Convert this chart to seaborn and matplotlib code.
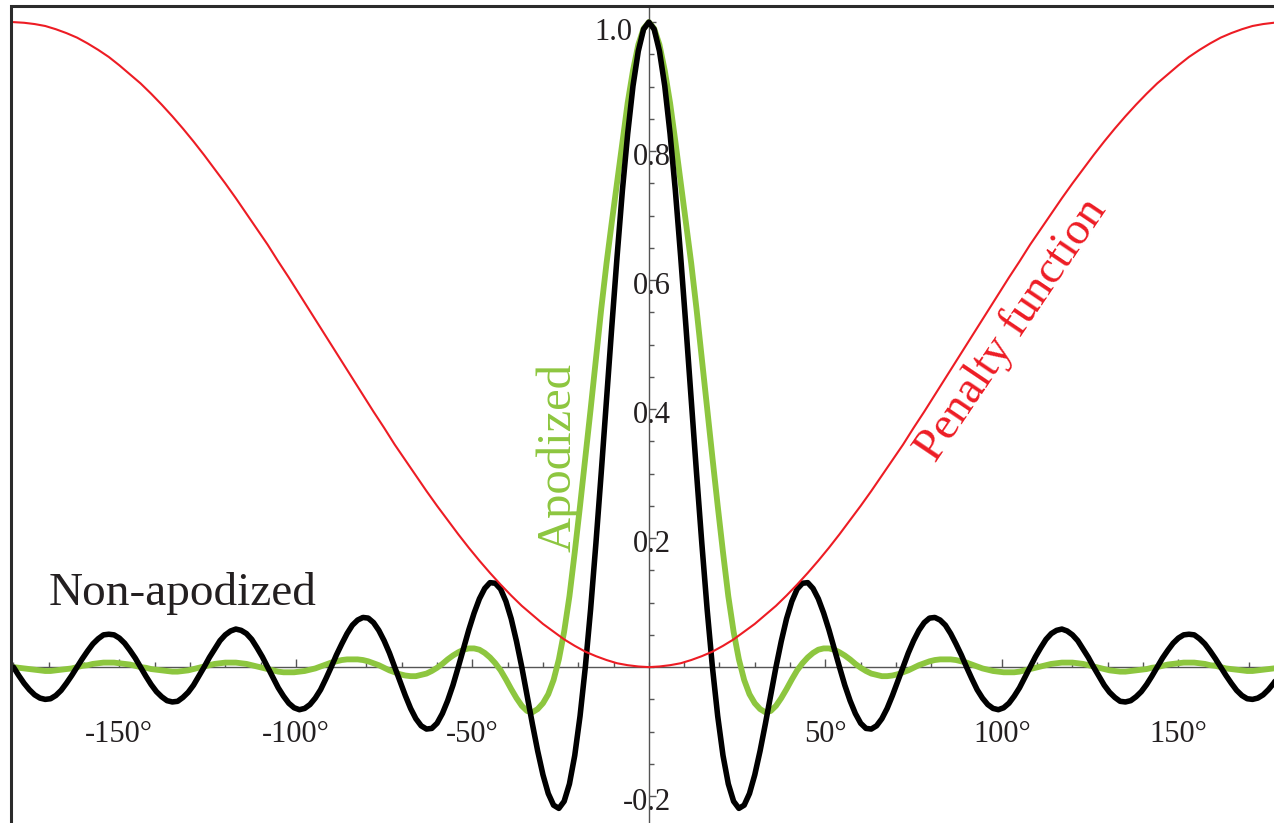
import numpy as np
import pandas as pd
import matplotlib
matplotlib.use("Agg")
import matplotlib.pyplot as plt
import seaborn as sns
from matplotlib.ticker import MultipleLocator
from matplotlib.patches import Rectangle
from matplotlib.transforms import ScaledTranslation

# ---------------- data ----------------
angle_deg = np.arange(-180, 180.1, 1.5)          # sampling angles, degrees

non_apodized = [
    # -180 .. -1.5
    0.000, -0.013, -0.025, -0.035, -0.043, -0.048, -0.050, -0.049, -0.044, -0.036, -0.025, -0.013,
    0.000, 0.013, 0.025, 0.036, 0.044, 0.050, 0.051, 0.050, 0.045, 0.037, 0.026, 0.014,
    0.000, -0.014, -0.027, -0.038, -0.046, -0.052, -0.054, -0.053, -0.047, -0.039, -0.028, -0.014,
    0.000, 0.015, 0.028, 0.041, 0.050, 0.056, 0.059, 0.057, 0.052, 0.043, 0.030, 0.016,
    0.000, -0.016, -0.032, -0.045, -0.056, -0.063, -0.066, -0.064, -0.058, -0.048, -0.035, -0.018,
    0.000, 0.019, 0.036, 0.052, 0.065, 0.073, 0.077, 0.076, 0.069, 0.057, 0.041, 0.022,
    0.000, -0.022, -0.044, -0.064, -0.080, -0.091, -0.096, -0.095, -0.087, -0.072, -0.052, -0.028,
    0.000, 0.029, 0.058, 0.084, 0.106, 0.122, 0.131, 0.130, 0.121, 0.102, 0.075, 0.040,
    0.000, -0.044, -0.088, -0.130, -0.167, -0.196, -0.214, -0.219, -0.208, -0.181, -0.137, -0.076,
    0.000, 0.090, 0.192, 0.301, 0.414, 0.528, 0.637, 0.739, 0.827, 0.901, 0.955, 0.989,
    # 0
    1.000,
    # 1.5 .. 180
    0.989, 0.955, 0.901, 0.827, 0.739, 0.637, 0.528, 0.414, 0.301, 0.192, 0.090, 0.000,
    -0.076, -0.137, -0.181, -0.208, -0.219, -0.214, -0.196, -0.167, -0.130, -0.088, -0.044, 0.000,
    0.040, 0.075, 0.102, 0.121, 0.130, 0.131, 0.122, 0.106, 0.084, 0.058, 0.029, 0.000,
    -0.028, -0.052, -0.072, -0.087, -0.095, -0.096, -0.091, -0.080, -0.064, -0.044, -0.022, 0.000,
    0.022, 0.041, 0.057, 0.069, 0.076, 0.077, 0.073, 0.065, 0.052, 0.036, 0.019, 0.000,
    -0.018, -0.035, -0.048, -0.058, -0.064, -0.066, -0.063, -0.056, -0.045, -0.032, -0.016, 0.000,
    0.016, 0.030, 0.043, 0.052, 0.057, 0.059, 0.056, 0.050, 0.041, 0.028, 0.015, 0.000,
    -0.014, -0.028, -0.039, -0.047, -0.053, -0.054, -0.052, -0.046, -0.038, -0.027, -0.014, 0.000,
    0.014, 0.026, 0.037, 0.045, 0.050, 0.051, 0.050, 0.044, 0.036, 0.025, 0.013, 0.000,
    -0.013, -0.025, -0.036, -0.044, -0.049, -0.050, -0.048, -0.043, -0.035, -0.025, -0.013, 0.000,
]

apodized = [
    # -180 .. -1.5
    0.000, -0.001, -0.002, -0.003, -0.004, -0.005, -0.006, -0.006, -0.005, -0.004, -0.003, -0.002,
    0.000, 0.002, 0.003, 0.005, 0.006, 0.007, 0.007, 0.007, 0.006, 0.005, 0.004, 0.002,
    0.000, -0.001, -0.003, -0.004, -0.005, -0.006, -0.007, -0.007, -0.006, -0.005, -0.003, -0.001,
    0.001, 0.003, 0.005, 0.006, 0.007, 0.007, 0.007, 0.006, 0.005, 0.003, 0.001, -0.001,
    -0.003, -0.005, -0.007, -0.008, -0.008, -0.008, -0.007, -0.006, -0.004, -0.002, 0.001, 0.004,
    0.007, 0.009, 0.011, 0.012, 0.012, 0.012, 0.011, 0.009, 0.006, 0.003, -0.001, -0.005,
    -0.008, -0.011, -0.013, -0.014, -0.014, -0.012, -0.010, -0.006, -0.001, 0.005, 0.012, 0.018,
    0.023, 0.027, 0.029, 0.029, 0.027, 0.022, 0.015, 0.006, -0.005, -0.019, -0.034, -0.048,
    -0.060, -0.068, -0.070, -0.065, -0.056, -0.042, -0.020, 0.012, 0.055, 0.110, 0.178, 0.250,
    0.325, 0.400, 0.478, 0.555, 0.626, 0.690, 0.752, 0.815, 0.875, 0.925, 0.965, 0.990,
    # 0
    1.000,
    # 1.5 .. 180
    0.990, 0.965, 0.925, 0.875, 0.815, 0.752, 0.690, 0.626, 0.555, 0.478, 0.400, 0.325,
    0.250, 0.178, 0.110, 0.055, 0.012, -0.020, -0.042, -0.056, -0.065, -0.070, -0.068, -0.060,
    -0.048, -0.034, -0.019, -0.005, 0.006, 0.015, 0.022, 0.027, 0.029, 0.029, 0.027, 0.023,
    0.018, 0.012, 0.005, -0.001, -0.006, -0.010, -0.012, -0.014, -0.014, -0.013, -0.011, -0.008,
    -0.005, -0.001, 0.003, 0.006, 0.009, 0.011, 0.012, 0.012, 0.012, 0.011, 0.009, 0.007,
    0.004, 0.001, -0.002, -0.004, -0.006, -0.007, -0.008, -0.008, -0.008, -0.007, -0.005, -0.003,
    -0.001, 0.001, 0.003, 0.005, 0.006, 0.007, 0.007, 0.007, 0.006, 0.005, 0.003, 0.001,
    -0.001, -0.003, -0.005, -0.006, -0.007, -0.007, -0.006, -0.005, -0.004, -0.003, -0.001, 0.000,
    0.002, 0.004, 0.005, 0.006, 0.007, 0.007, 0.007, 0.006, 0.005, 0.003, 0.002, 0.000,
    -0.002, -0.003, -0.004, -0.005, -0.006, -0.006, -0.005, -0.004, -0.003, -0.002, -0.001, 0.000,
]

penalty_angle_deg = np.arange(-180, 180.1, 3)
penalty = [
    1.000, 0.999, 0.997, 0.994, 0.989, 0.983, 0.976, 0.967, 0.957, 0.946,
    0.933, 0.919, 0.905, 0.889, 0.872, 0.854, 0.835, 0.815, 0.794, 0.772,
    0.750, 0.727, 0.703, 0.679, 0.655, 0.629, 0.604, 0.578, 0.552, 0.526,
    0.500, 0.474, 0.448, 0.422, 0.396, 0.371, 0.345, 0.321, 0.297, 0.273,
    0.250, 0.228, 0.206, 0.185, 0.165, 0.146, 0.128, 0.111, 0.095, 0.081,
    0.067, 0.055, 0.043, 0.033, 0.024, 0.017, 0.011, 0.006, 0.003, 0.001,
    0.000,
    0.001, 0.003, 0.006, 0.011, 0.017, 0.024, 0.033, 0.043, 0.055, 0.067,
    0.081, 0.095, 0.111, 0.128, 0.146, 0.165, 0.185, 0.206, 0.228, 0.250,
    0.273, 0.297, 0.321, 0.345, 0.371, 0.396, 0.422, 0.448, 0.474, 0.500,
    0.526, 0.552, 0.578, 0.604, 0.629, 0.655, 0.679, 0.703, 0.727, 0.750,
    0.772, 0.794, 0.815, 0.835, 0.854, 0.872, 0.889, 0.905, 0.919, 0.933,
    0.946, 0.957, 0.967, 0.976, 0.983, 0.989, 0.994, 0.997, 0.999, 1.000,
]

xtick_pos = [-150, -100, -50, 50, 100, 150]
xtick_labels = ["-150°", "-100°", "-50°", "50°", "100°", "150°"]
ytick_pos = [-0.2, 0.2, 0.4, 0.6, 0.8, 1.0]
ytick_labels = ["-0.2", "0.2", "0.4", "0.6", "0.8", "1.0"]

assert len(angle_deg) == len(non_apodized) == len(apodized)
assert len(penalty_angle_deg) == len(penalty)

df_black = pd.DataFrame({"angle": angle_deg, "value": non_apodized})
df_green = pd.DataFrame({"angle": angle_deg, "value": apodized})
df_red = pd.DataFrame({"angle": penalty_angle_deg, "value": penalty})

# ---------------- style ----------------
sns.set_style("white")
plt.rcParams["font.family"] = ["Liberation Serif", "DejaVu Serif"]

GREEN = "#8DC63F"
RED = "#ED1C24"
TEXT = "#231F20"
AXIS = "#555555"

W, H = 1274, 823
fig = plt.figure(figsize=(W / 100, H / 100), dpi=100)
fig.patch.set_facecolor("white")

xlim = (-180.7, 180.7)
ylim = (-0.26, 1.025)
px_per_deg = 3.53
px_per_unit = 645.0
ax_w = (xlim[1] - xlim[0]) * px_per_deg
ax_h = (ylim[1] - ylim[0]) * px_per_unit
left_px, top_px = 11, 6
ax = fig.add_axes([left_px / W, (H - top_px - ax_h) / H, ax_w / W, ax_h / H])
ax.set_facecolor("white")

sns.lineplot(data=df_green, x="angle", y="value", color=GREEN, lw=4.2,
             ax=ax, zorder=2, estimator=None, legend=False)
sns.lineplot(data=df_black, x="angle", y="value", color="black", lw=4.0,
             ax=ax, zorder=3, estimator=None, legend=False)
sns.lineplot(data=df_red, x="angle", y="value", color=RED, lw=1.5,
             ax=ax, zorder=4, estimator=None, legend=False)

ax.set_xlim(*xlim)
ax.set_ylim(*ylim)
ax.set_xlabel("")
ax.set_ylabel("")

# axes through the origin
for s in ("top", "right"):
    ax.spines[s].set_visible(False)
ax.spines["left"].set_position(("data", 0))
ax.spines["bottom"].set_position(("data", 0))
for s in ("left", "bottom"):
    ax.spines[s].set_color(AXIS)
    ax.spines[s].set_linewidth(1.0)
    ax.spines[s].set_zorder(1)

ax.set_xticks(xtick_pos)
ax.set_xticklabels(xtick_labels)
ax.xaxis.set_minor_locator(MultipleLocator(10))
ax.set_yticks(ytick_pos)
ax.set_yticklabels(ytick_labels)
ax.yaxis.set_minor_locator(MultipleLocator(0.05))

ax.tick_params(axis="x", which="major", direction="in", length=6, width=1,
               color=AXIS, pad=38, labelsize=22, labelcolor=TEXT,
               top=False, bottom=True)
ax.tick_params(axis="x", which="minor", direction="in", length=3.5, width=1,
               color=AXIS, top=False, bottom=True)
ax.tick_params(axis="y", which="major", direction="in", length=5, width=1,
               color=AXIS, pad=-16, labelsize=22, labelcolor=TEXT,
               right=False, left=True)
ax.tick_params(axis="y", which="minor", direction="in", length=3.5, width=1,
               color=AXIS, right=False, left=True)

# small per-label nudges of the y tick labels (as in the reference)
for tick in ax.yaxis.get_major_ticks():
    lbl = tick.label1
    if lbl.get_text() == "1.0":
        dx, dy = -39, -7
    else:
        dx, dy = 0, -3
    lbl.set_transform(lbl.get_transform() +
                      ScaledTranslation(dx / 100, dy / 100, fig.dpi_scale_trans))

# outer frame (only left/top visible in the cropped picture)
ax.add_patch(Rectangle((0, 0), 1, 1, transform=ax.transAxes, fill=False,
                       ec="#2B2B2B", lw=2.2, clip_on=False, zorder=10))

# annotations
ax.text(-170, 0.096, "Non-apodized", fontsize=34, color=TEXT,
        ha="left", va="baseline", zorder=5)
ax.text(-25.8, 0.325, "Apodized", fontsize=35, color=GREEN, rotation=90,
        ha="center", va="center", zorder=5)
ax.text(102.8, 0.522, "Penalty function", fontsize=33.5, color=RED, rotation=56,
        ha="center", va="center", zorder=5)

fig.savefig("out.png", dpi=100, facecolor="white")
